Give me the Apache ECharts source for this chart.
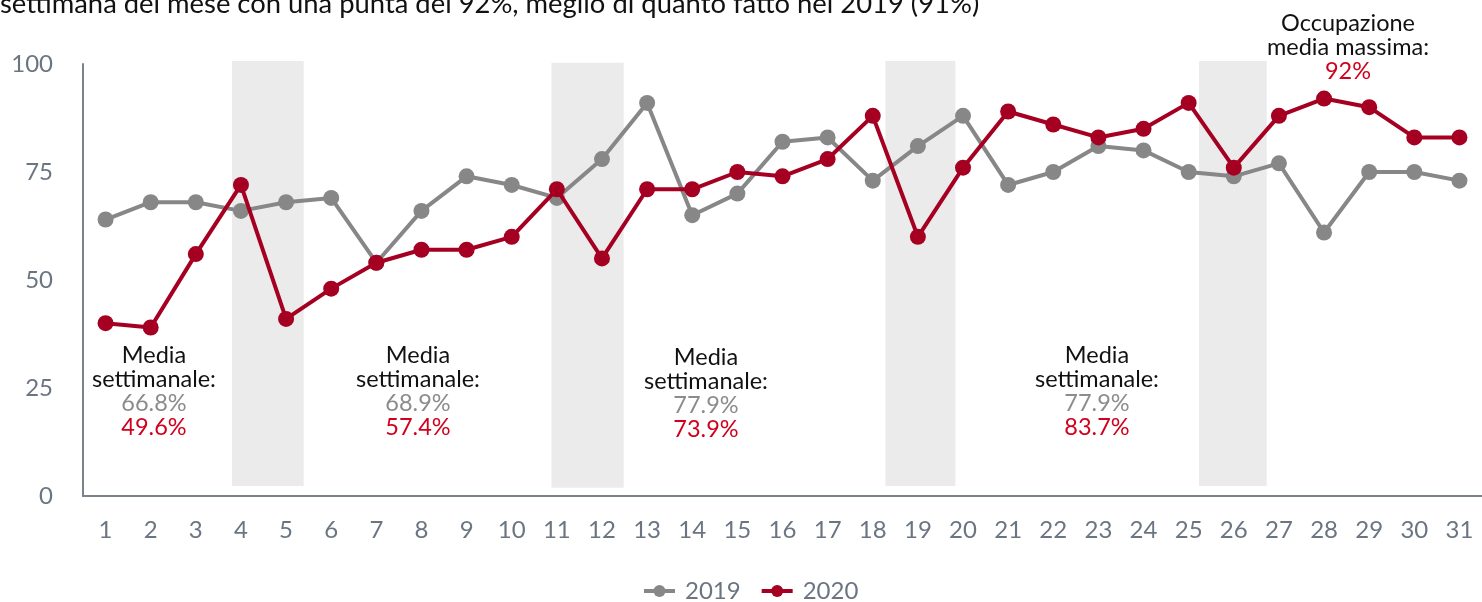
<!DOCTYPE html>
<html>
<head>
<meta charset="utf-8">
<script src="https://cdn.jsdelivr.net/npm/echarts@6/dist/echarts.min.js"></script>
<style>
  html, body { margin: 0; padding: 0; background: #fff; }
  #chart { width: 1482px; height: 602px; }
</style>
</head>
<body>
<div id="chart"></div>
<script>
const days = Array.from({ length: 31 }, (_, i) => String(i + 1))
const yTicks = [0, 25, 50, 75, 100]

const occ2019 = [64, 68, 68, 66, 68, 69, 54, 66, 74, 72, 69, 78, 91, 65, 70, 82, 83, 73, 81, 88, 72, 75, 81, 80, 75, 74, 77, 61, 75, 75, 73]
const occ2020 = [40, 39, 56, 72, 41, 48, 54, 57, 57, 60, 71, 55, 71, 71, 75, 74, 78, 88, 60, 76, 89, 86, 83, 85, 91, 76, 88, 92, 90, 83, 83]

// weekend bands, in day units: [from, to, bottom, top]
const weekendBands = [
  [3.8, 5.39, 2.3, 100.7],
  [10.88, 12.48, 1.9, 100.3],
  [18.28, 19.83, 2.3, 100.7],
  [25.23, 26.73, 2.3, 100.7]
]

const weeklyNotes = [
  { avg2019: '66.8%', avg2020: '49.6%' },
  { avg2019: '68.9%', avg2020: '57.4%' },
  { avg2019: '77.9%', avg2020: '73.9%' },
  { avg2019: '77.9%', avg2020: '83.7%' }
]
const maxNote = '92%'
const headline = 'settimana del mese con una punta del 92%, meglio di quanto fatto nel 2019 (91%)'

const GRAY = '#878787'
const RED = '#a50021'
const TEXT_RED = '#d2001c'
const AXIS = '#7a828c'
const LABEL = '#6b7582'
const FONT = 'Lato, "Noto Sans", sans-serif'

const noteRich = {
  t: { fontFamily: FONT, fontSize: 23.5, fill: '#111', lineHeight: 24 },
  g: { fontFamily: FONT, fontSize: 23.5, fill: '#8c8c8c', lineHeight: 24 },
  r: { fontFamily: FONT, fontSize: 23.5, fill: TEXT_RED, lineHeight: 24 }
}

const notePos = [[154, 343], [418, 343], [706, 345], [1097, 343]]

const noteGraphics = weeklyNotes.map((n, i) => ({
  type: 'text',
  x: notePos[i][0],
  y: notePos[i][1],
  style: {
    text: '{t|Media}\n{t|settimanale:}\n{g|' + n.avg2019 + '}\n{r|' + n.avg2020 + '}',
    rich: noteRich,
    align: 'center',
    verticalAlign: 'top'
  }
}))

const chart = echarts.init(document.getElementById('chart'))

chart.setOption({
  animation: false,
  backgroundColor: '#fff',
  grid: { left: 83, top: 64, width: 1400, height: 432, containLabel: false },
  legend: {
    data: [
      { name: '2019', lineStyle: { width: 4, color: GRAY } },
      { name: '2020', lineStyle: { width: 4, color: RED } }
    ],
    left: 642,
    top: 579,
    padding: 0,
    itemWidth: 31,
    itemHeight: 15,
    itemGap: 19,
    lineStyle: { width: 4 },
    textStyle: { fontFamily: FONT, fontSize: 24, color: LABEL, padding: [0, 0, 0, 5] }
  },
  xAxis: [
    {
      type: 'category',
      data: days,
      boundaryGap: true,
      axisLine: { show: true, lineStyle: { color: AXIS, width: 2 } },
      axisTick: { show: false },
      axisLabel: { fontFamily: FONT, fontSize: 24, color: LABEL, margin: 22, interval: 0 },
      splitLine: { show: false }
    },
    {
      type: 'value',
      min: 0.5,
      max: 31.5,
      show: false
    }
  ],
  yAxis: {
    type: 'value',
    min: yTicks[0],
    max: yTicks[yTicks.length - 1],
    interval: 25,
    axisLine: { show: true, lineStyle: { color: AXIS, width: 2 } },
    axisTick: { show: false },
    axisLabel: { fontFamily: FONT, fontSize: 24, color: LABEL, margin: 30 },
    splitLine: { show: false }
  },
  series: [
    {
      name: 'weekend',
      type: 'custom',
      xAxisIndex: 1,
      yAxisIndex: 0,
      z: 0,
      silent: true,
      data: weekendBands,
      renderItem: (params, api) => {
        const p0 = api.coord([api.value(0), api.value(3)])
        const p1 = api.coord([api.value(1), api.value(2)])
        return {
          type: 'rect',
          shape: { x: p0[0], y: p0[1], width: p1[0] - p0[0], height: p1[1] - p0[1] },
          style: { fill: '#ebebeb' }
        }
      }
    },
    {
      name: '2019',
      type: 'line',
      data: occ2019,
      z: 3,
      symbol: 'circle',
      symbolSize: 16,
      itemStyle: { color: GRAY },
      lineStyle: { color: GRAY, width: 4 }
    },
    {
      name: '2020',
      type: 'line',
      data: occ2020,
      z: 4,
      symbol: 'circle',
      symbolSize: 16,
      itemStyle: { color: RED },
      lineStyle: { color: RED, width: 4 }
    }
  ],
  graphic: [
    {
      type: 'text',
      x: 0,
      y: -9,
      style: {
        text: headline,
        font: '27.4px Lato, sans-serif',
        fill: '#111',
        verticalAlign: 'top'
      }
    },
    {
      type: 'text',
      x: 1348,
      y: 11,
      style: {
        text: '{t|Occupazione}\n{t|media massima:}\n{r|' + maxNote + '}',
        rich: noteRich,
        align: 'center',
        verticalAlign: 'top'
      }
    },
    ...noteGraphics
  ]
})
</script>
</body>
</html>
